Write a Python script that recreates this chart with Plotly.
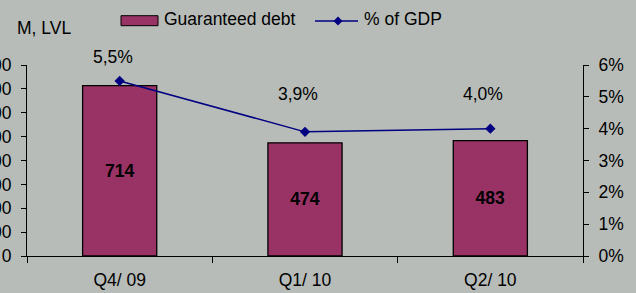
import plotly.graph_objects as go

categories = ["Q4/ 09", "Q1/ 10", "Q2/ 10"]
guaranteed_debt = [714, 474, 483]
pct_of_gdp = [5.5, 3.9, 4.0]
left_tick_vals = [0, 100, 200, 300, 400, 500, 600, 700, 800]
right_tick_vals = [0, 1, 2, 3, 4, 5, 6]
right_tick_text = [f"{v}%" for v in right_tick_vals]
pct_labels = [f"{v:.1f}%".replace(".", ",") for v in pct_of_gdp]
pct_label_shift = [24, 38, 35]

W, H = 636, 293
L, R, T, B = 27, 53, 65, 37
BG = "#b8bcb8"
BAR = "#993366"
NAVY = "#000080"
FONT = "Liberation Sans, Arial, sans-serif"
FS = 17.5


def px(x):
    return (x - L) / (W - L - R)


def py(y):
    return (H - B - y) / (H - T - B)


fig = go.Figure()
fig.add_bar(
    x=categories, y=guaranteed_debt, width=0.4,
    marker=dict(color=BAR, line=dict(color="black", width=1.3)),
    text=[f"<b>{v}</b>" for v in guaranteed_debt],
    textposition="inside", insidetextanchor="middle", textangle=0,
    constraintext="none",
    textfont=dict(size=FS, color="black", family=FONT),
    showlegend=False, hoverinfo="skip",
)
fig.add_scatter(
    x=categories, y=pct_of_gdp, yaxis="y2", mode="lines+markers",
    line=dict(color=NAVY, width=1.5),
    marker=dict(symbol="diamond", size=8, color=NAVY),
    showlegend=False, hoverinfo="skip",
)

annotations = []
for c, v, t, s in zip(categories, pct_of_gdp, pct_labels, pct_label_shift):
    annotations.append(dict(x=c, y=v, xref="x", yref="y2", text=t, showarrow=False,
                            yshift=s, xshift=-7, yanchor="middle",
                            font=dict(size=FS, color="black", family=FONT)))

# legend & unit text
annotations += [
    dict(x=px(15), y=py(28), xref="paper", yref="paper", text="M, LVL", showarrow=False,
         xanchor="left", yanchor="middle", font=dict(size=FS, color="black", family=FONT)),
    dict(x=px(162), y=py(18.5), xref="paper", yref="paper", text="Guaranteed debt", showarrow=False,
         xanchor="left", yanchor="middle", font=dict(size=FS, color="black", family=FONT)),
    dict(x=px(362), y=py(19.3), xref="paper", yref="paper", text="% of GDP", showarrow=False,
         xanchor="left", yanchor="middle", font=dict(size=FS, color="black", family=FONT)),
]

cx, cy, d = 338, 21, 4.5
shapes = [
    dict(type="rect", xref="paper", yref="paper", x0=px(121), x1=px(158), y0=py(25.7), y1=py(15.7),
         fillcolor=BAR, line=dict(color="black", width=1)),
    dict(type="line", xref="paper", yref="paper", x0=px(315), x1=px(358), y0=py(21), y1=py(21),
         line=dict(color=NAVY, width=1.5)),
    dict(type="path", xref="paper", yref="paper",
         path=f"M {px(cx)},{py(cy-d)} L {px(cx+d)},{py(cy)} L {px(cx)},{py(cy+d)} L {px(cx-d)},{py(cy)} Z",
         fillcolor=NAVY, line=dict(color=NAVY, width=0)),
]

axis_common = dict(showgrid=False, zeroline=False, tickcolor="black", tickwidth=1, automargin=False)

fig.update_layout(
    width=W, height=H,
    margin=dict(l=L, r=R, t=T, b=B, pad=0, autoexpand=False),
    paper_bgcolor=BG, plot_bgcolor=BG,
    font=dict(family=FONT, size=FS, color="black"),
    showlegend=False,
    annotations=annotations, shapes=shapes,
    xaxis=dict(type="category", range=[-0.5, 2.5], showline=True, linecolor="black", linewidth=1,
               ticks="outside", tickson="boundaries", ticklen=6, ticklabelstandoff=8,
               tickfont=dict(size=FS), **axis_common),
    xaxis2=dict(overlaying="x", anchor="y", range=[-0.5, 2.5], tickvals=[0.5, 1.5],
                ticks="inside", ticklen=6, showticklabels=False, showline=False, **axis_common),
    yaxis=dict(range=[0, 800], tickvals=left_tick_vals, showline=True, linecolor="black", linewidth=1,
               ticks="outside", ticklen=5, ticklabelstandoff=6, tickfont=dict(size=FS), **axis_common),
    yaxis3=dict(overlaying="y", anchor="x", range=[0, 800], tickvals=left_tick_vals,
                ticks="inside", ticklen=5, showticklabels=False, showline=False, **axis_common),
    yaxis2=dict(overlaying="y", side="right", anchor="x", range=[0, 6], tickvals=right_tick_vals,
                ticktext=right_tick_text, showline=True, linecolor="black", linewidth=1,
                ticks="outside", ticklen=5, ticklabelstandoff=6, tickfont=dict(size=FS), **axis_common),
    yaxis4=dict(overlaying="y", side="right", anchor="x", range=[0, 6], tickvals=right_tick_vals,
                ticks="inside", ticklen=5, showticklabels=False, showline=False, **axis_common),
)

fig.write_html("out.html", config={"displayModeBar": False},
               post_script="document.body.style.margin='0';document.body.style.overflow='hidden';")
